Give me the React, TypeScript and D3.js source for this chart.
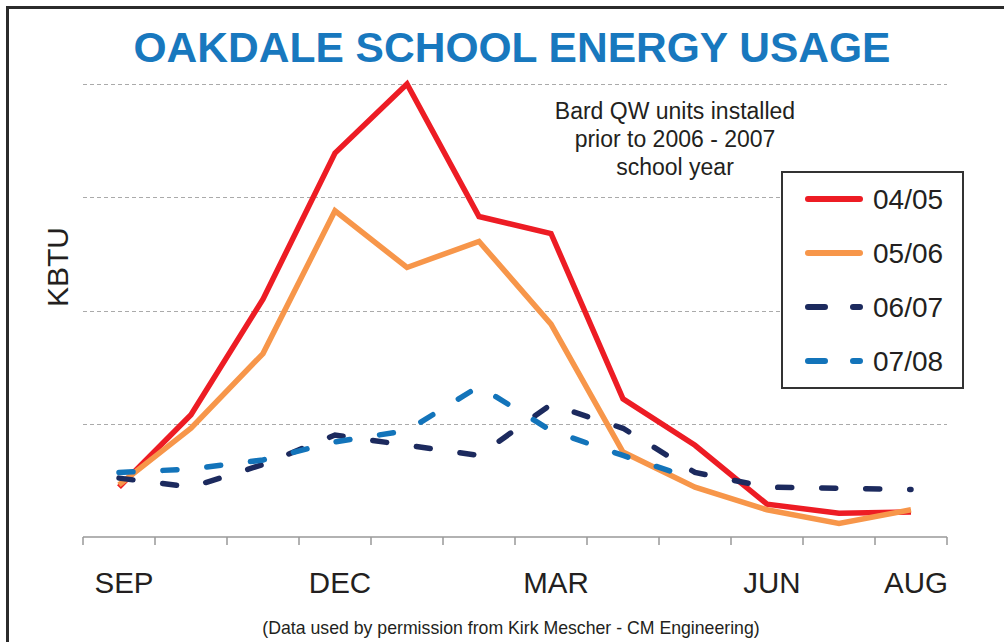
import { useEffect, useRef } from "react";
import * as d3 from "d3";

const months = ["SEP", "OCT", "NOV", "DEC", "JAN", "FEB", "MAR", "APR", "MAY", "JUN", "JUL", "AUG"];
const shownMonths = ["SEP", "DEC", "MAR", "JUN", "AUG"];

const fy0405 = [44, 108, 210, 339, 400, 283, 268, 122, 81, 29, 21, 22];
const fy0506 = [46, 96, 162, 288, 238, 261, 188, 75, 44, 24, 12, 24];
const fy0607 = [52, 44, 64, 90, 81, 72, 117, 96, 57, 44, 43, 42];
const fy0708 = [57, 60, 68, 84, 94, 133, 94, 72, 51];

const gridValues = [100, 200, 300, 400];

const series = [
  { name: "04/05", values: fy0405, color: "#ED1C24", dash: null },
  { name: "05/06", values: fy0506, color: "#F7964A", dash: null },
  { name: "06/07", values: fy0607, color: "#1C2A5E", dash: "14,30" },
  { name: "07/08", values: fy0708, color: "#1374BA", dash: "14,30" },
];

const W = 1004;
const H = 642;
const FONT = "'Liberation Sans', Arial, Helvetica, sans-serif";

export default function App() {
  const svgRef = useRef<SVGSVGElement>(null);

  useEffect(() => {
    if (!svgRef.current) return;
    const svg = d3.select(svgRef.current);
    svg.selectAll("*").remove();

    const x = d3.scaleBand<string>().domain(months).range([83, 947]).padding(0);
    const y = d3.scaleLinear().domain([0, 400]).range([537, 84]);
    const cx = (m: string) => (x(m) ?? 0) + x.bandwidth() / 2;

    svg.append("rect").attr("width", W).attr("height", H).attr("fill", "#fff");

    // frame
    svg
      .append("rect")
      .attr("x", 7.5)
      .attr("y", 7.5)
      .attr("width", W + 20)
      .attr("height", H + 20)
      .attr("fill", "none")
      .attr("stroke", "#2b2b2b")
      .attr("stroke-width", 3);

    svg
      .append("text")
      .attr("x", 512)
      .attr("y", 62)
      .attr("text-anchor", "middle")
      .attr("font-family", "'Liberation Sans Narrow', 'Liberation Sans', Arial, sans-serif")
      .attr("font-weight", "bold")
      .attr("font-size", 43)
      .attr("textLength", 757)
      .attr("lengthAdjust", "spacingAndGlyphs")
      .attr("fill", "#1878BE")
      .text("OAKDALE SCHOOL ENERGY USAGE");

    // gridlines
    svg
      .append("g")
      .selectAll("line")
      .data(gridValues)
      .join("line")
      .attr("x1", 83)
      .attr("x2", 947)
      .attr("y1", (d) => Math.round(y(d)) + 0.5)
      .attr("y2", (d) => Math.round(y(d)) + 0.5)
      .attr("stroke", "#aaa")
      .attr("stroke-width", 1)
      .attr("stroke-dasharray", "4,3");

    // x axis
    const axis = svg.append("g").attr("stroke", "#999").attr("stroke-width", 1.5);
    axis.append("line").attr("x1", 83).attr("x2", 947).attr("y1", y(0)).attr("y2", y(0));
    const tickXs = months.map((m) => x(m) ?? 0).concat([x.range()[1]]);
    axis
      .selectAll("line.tick")
      .data(tickXs)
      .join("line")
      .attr("class", "tick")
      .attr("x1", (d) => d)
      .attr("x2", (d) => d)
      .attr("y1", y(0))
      .attr("y2", y(0) + 8);

    svg
      .append("g")
      .selectAll("text")
      .data(shownMonths)
      .join("text")
      .attr("x", (d) => cx(d) + 5)
      .attr("y", 593)
      .attr("text-anchor", "middle")
      .attr("font-family", FONT)
      .attr("font-size", 29.5)
      .attr("fill", "#231f20")
      .text((d) => d);

    svg
      .append("text")
      .attr("transform", "translate(68,267) rotate(-90)")
      .attr("text-anchor", "middle")
      .attr("font-family", FONT)
      .attr("font-size", 30)
      .attr("fill", "#231f20")
      .text("KBTU");

    const annot = ["Bard QW units installed", "prior to 2006 - 2007", "school year"];
    svg
      .append("g")
      .selectAll("text")
      .data(annot)
      .join("text")
      .attr("x", 675)
      .attr("y", (_, i) => 119 + i * 28)
      .attr("text-anchor", "middle")
      .attr("font-family", FONT)
      .attr("font-size", 23)
      .attr("fill", "#231f20")
      .text((d) => d);

    // series lines
    const line = d3
      .line<number>()
      .x((_, i) => cx(months[i]))
      .y((d) => y(d));

    svg
      .append("g")
      .selectAll("path")
      .data(series)
      .join("path")
      .attr("d", (d) => line(d.values))
      .attr("fill", "none")
      .attr("stroke", (d) => d.color)
      .attr("stroke-width", 5.5)
      .attr("stroke-linecap", (d) => (d.dash ? "round" : "butt"))
      .attr("stroke-linejoin", "miter")
      .attr("stroke-dasharray", (d) => d.dash ?? null);

    // legend
    const lg = svg.append("g");
    lg.append("rect")
      .attr("x", 782)
      .attr("y", 172)
      .attr("width", 181)
      .attr("height", 216)
      .attr("fill", "#fff")
      .attr("stroke", "#333")
      .attr("stroke-width", 2);

    const item = lg
      .selectAll("g")
      .data(series)
      .join("g")
      .attr("transform", (_, i) => `translate(0,${199 + i * 54})`);

    item
      .append("line")
      .attr("x1", 808)
      .attr("x2", 860)
      .attr("y1", 0)
      .attr("y2", 0)
      .attr("stroke", (d) => d.color)
      .attr("stroke-width", 6)
      .attr("stroke-linecap", "round")
      .attr("stroke-dasharray", (d) => (d.dash ? "17,28" : null));

    item
      .append("text")
      .attr("x", 873)
      .attr("y", 10)
      .attr("font-family", FONT)
      .attr("font-size", 28)
      .attr("fill", "#231f20")
      .text((d) => d.name);

    svg
      .append("text")
      .attr("x", 511)
      .attr("y", 634)
      .attr("text-anchor", "middle")
      .attr("font-family", FONT)
      .attr("font-size", 17.7)
      .attr("fill", "#231f20")
      .text("(Data used by permission from Kirk Mescher - CM Engineering)");
  }, []);

  return (
    <div style={{ position: "absolute", left: 0, top: 0 }}>
      <svg ref={svgRef} width={W} height={H} style={{ display: "block" }} />
    </div>
  );
}
